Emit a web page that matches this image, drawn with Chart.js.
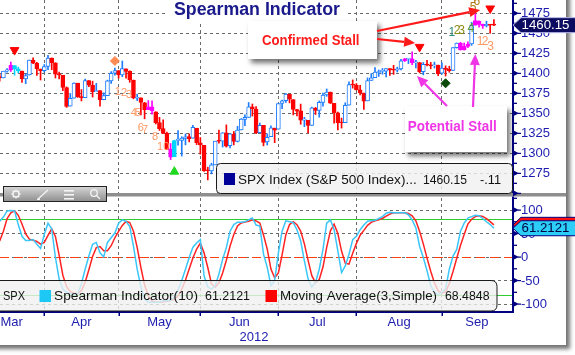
<!DOCTYPE html>
<html>
<head>
<meta charset="utf-8">
<title>Spearman Indicator</title>
<script src="https://cdn.jsdelivr.net/npm/chart.js@4.4.1/dist/chart.umd.min.js"></script>
<style>
html,body{margin:0;padding:0;background:#fff;overflow:hidden;}
canvas{display:block;}
</style>
</head>
<body>
<canvas id="chart" width="575" height="355"></canvas>
<script>
// ---------- DATA (SPX daily, 2012) ----------
const dates = ['03-14',
 '03-15','03-16','03-19','03-20','03-21','03-22','03-23','03-26','03-27','03-28','03-29','03-30',
 '04-02','04-03','04-04','04-05','04-09','04-10','04-11','04-12','04-13','04-16','04-17','04-18','04-19','04-20','04-23','04-24','04-25','04-26','04-27','04-30',
 '05-01','05-02','05-03','05-04','05-07','05-08','05-09','05-10','05-11','05-14','05-15','05-16','05-17','05-18','05-21','05-22','05-23','05-24','05-25','05-29','05-30','05-31',
 '06-01','06-04','06-05','06-06','06-07','06-08','06-11','06-12','06-13','06-14','06-15','06-18','06-19','06-20','06-21','06-22','06-25','06-26','06-27','06-28','06-29',
 '07-02','07-03','07-05','07-06','07-09','07-10','07-11','07-12','07-13','07-16','07-17','07-18','07-19','07-20','07-23','07-24','07-25','07-26','07-27','07-30','07-31',
 '08-01','08-02','08-03','08-06','08-07','08-08','08-09','08-10','08-13','08-14','08-15','08-16','08-17','08-20','08-21','08-22','08-23','08-24','08-27','08-28','08-29','08-30','08-31',
 '09-04','09-05','09-06','09-07','09-10','09-11','09-12','09-13','09-14','09-17','09-18','09-19','09-20','09-21'];
const monthNames = {'03':'Mar','04':'Apr','05':'May','06':'Jun','07':'Jul','08':'Aug','09':'Sep'};
const yearLabel = '2012';

const opens = [1395.9,
 1394.2,1402.6,1404.2,1409.6,1405.5,1402.9,1392.8,1397.8,1416.6,1412.5,1405.4,1403.3,
 1408.5,1418.9,1413.1,1398.8,1397.4,1382.2,1359.0,1368.8,1387.6,1370.3,1369.6,1390.8,1385.1,1377.0,1378.5,1367.0,1372.1,1390.6,1400.2,1403.3,
 1397.9,1405.5,1402.3,1391.5,1368.8,1369.2,1363.2,1354.6,1358.1,1351.9,1338.4,1330.8,1324.8,1305.1,1295.7,1316.1,1316.0,1318.7,1320.8,1318.9,1331.3,1313.1,
 1309.9,1278.3,1277.8,1285.6,1316.1,1315.0,1325.7,1309.4,1324.0,1314.9,1329.2,1342.4,1344.8,1358.0,1355.4,1325.9,1334.9,1314.1,1320.7,1331.5,1330.1,
 1362.3,1365.8,1373.7,1367.1,1354.7,1353.0,1341.4,1341.3,1334.8,1356.5,1353.7,1363.6,1373.0,1376.5,1362.3,1350.5,1338.3,1338.2,1360.1,1385.9,1385.3,
 1379.3,1375.1,1365.5,1391.0,1394.5,1401.0,1402.3,1402.6,1405.9,1404.4,1403.9,1405.6,1415.8,1417.9,1418.1,1413.1,1413.5,1402.0,1411.1,1410.4,1409.3,1410.1,1400.1,
 1406.5,1404.9,1403.7,1432.1,1437.9,1429.1,1433.6,1436.6,1460.1,1465.4,1461.2,1459.5,1461.1,1460.3];
const highs = [1399.4,
 1402.6,1405.9,1414.0,1409.6,1407.8,1402.9,1399.2,1416.6,1419.2,1413.7,1405.4,1410.9,
 1422.4,1419.2,1413.1,1401.6,1397.4,1383.0,1374.7,1388.1,1387.6,1379.7,1392.8,1390.8,1390.1,1387.4,1378.5,1375.6,1391.4,1402.1,1406.6,1403.3,
 1415.3,1405.5,1403.1,1391.5,1373.9,1369.2,1363.7,1365.9,1365.7,1351.9,1344.9,1341.8,1326.4,1312.2,1316.4,1328.5,1320.7,1324.1,1324.2,1334.9,1331.3,1319.7,
 1309.9,1282.6,1287.6,1315.1,1329.1,1325.8,1335.5,1324.3,1327.3,1333.7,1343.3,1348.2,1363.5,1361.6,1358.3,1337.8,1334.9,1324.2,1334.4,1331.5,1362.2,
 1366.4,1374.8,1373.9,1367.1,1354.9,1361.5,1345.0,1341.3,1357.7,1357.3,1365.4,1375.3,1380.4,1376.5,1362.3,1351.5,1344.0,1363.1,1389.2,1391.7,1387.2,
 1385.0,1375.1,1394.2,1399.6,1407.1,1404.1,1406.0,1406.0,1405.9,1410.0,1407.7,1417.4,1418.7,1418.1,1426.7,1416.1,1413.5,1413.5,1416.2,1413.6,1414.0,1410.1,1413.1,
 1409.3,1408.8,1432.1,1437.9,1438.7,1437.8,1439.2,1463.8,1474.5,1465.6,1461.5,1465.1,1461.2,1467.1];
const lows = [1390.0,
 1394.2,1401.5,1402.4,1397.7,1400.6,1388.7,1386.9,1397.8,1411.9,1397.2,1391.6,1401.4,
 1404.5,1404.6,1394.1,1392.9,1378.2,1357.4,1359.0,1368.8,1369.9,1365.4,1369.6,1383.3,1370.3,1377.0,1358.8,1366.8,1372.1,1387.3,1397.7,1394.0,
 1395.7,1393.9,1388.7,1368.0,1365.9,1347.8,1343.1,1354.6,1348.9,1336.6,1328.5,1324.8,1304.9,1292.0,1295.7,1310.0,1296.5,1310.5,1314.2,1318.9,1310.8,1298.9,
 1277.3,1266.7,1274.2,1285.6,1312.7,1307.8,1307.7,1306.6,1310.5,1314.1,1329.2,1334.5,1344.8,1346.5,1324.4,1325.9,1309.3,1310.3,1320.7,1313.3,1330.1,
 1355.7,1363.5,1363.0,1348.0,1346.7,1336.3,1333.2,1325.4,1334.8,1348.5,1345.1,1359.0,1371.2,1362.2,1337.6,1329.2,1331.5,1338.2,1360.1,1381.4,1379.2,
 1373.1,1354.7,1365.5,1391.0,1394.5,1396.1,1398.8,1395.6,1397.3,1398.6,1401.6,1404.2,1414.7,1412.1,1410.9,1406.8,1400.5,1398.0,1409.1,1405.6,1406.6,1397.0,1399.0,
 1396.6,1401.3,1403.7,1431.5,1429.0,1429.1,1432.0,1434.9,1460.1,1457.6,1456.1,1457.9,1450.0,1459.5];
const closes = [1394.3,
 1402.6,1404.2,1409.8,1405.5,1402.9,1392.8,1397.1,1416.5,1412.5,1405.5,1403.3,1408.5,
 1419.0,1413.4,1399.0,1398.1,1382.2,1358.6,1368.7,1387.6,1370.3,1369.6,1390.8,1385.1,1376.9,1378.5,1366.9,1372.0,1390.7,1400.0,1403.4,1397.9,
 1405.8,1402.3,1391.6,1369.1,1369.6,1363.7,1354.6,1358.0,1353.4,1338.4,1330.7,1324.8,1304.9,1295.2,1316.0,1316.6,1318.9,1320.7,1317.8,1332.4,1313.3,1310.3,
 1278.0,1278.2,1285.5,1315.1,1315.0,1325.7,1308.9,1324.2,1314.9,1329.1,1342.8,1344.8,1358.0,1355.7,1325.5,1335.0,1313.7,1320.0,1331.9,1329.0,1362.2,
 1365.5,1374.0,1367.6,1354.7,1352.5,1341.5,1341.5,1334.8,1356.8,1353.6,1363.7,1372.8,1376.5,1362.7,1350.5,1338.3,1337.9,1360.0,1386.0,1385.3,1379.3,
 1375.3,1365.0,1391.0,1394.2,1401.4,1402.2,1402.8,1405.9,1404.1,1403.9,1405.5,1415.5,1418.2,1418.1,1413.2,1413.5,1402.1,1411.1,1410.4,1409.3,1410.5,1399.5,1406.6,
 1404.9,1403.4,1432.1,1437.9,1429.1,1433.6,1436.6,1460.0,1465.8,1461.2,1459.3,1461.1,1460.26,1460.15];

const spearman = [76,
 85,98,99,98,69,44,35,35,37,27,18,48,
 72,60,-1,-47,-68,-75,-78,-79,-78,-57,-26,2,27,31,9,0,31,41,51,72,
 79,76,65,23,-26,-64,-89,-96,-96,-96,-96,-93,-93,-92,-85,-71,-50,-26,-1,21,30,37,
 -40,-64,-68,-61,-36,-5,20,55,69,74,74,75,79,83,68,66,6,-22,-61,-50,9,
 55,77,75,73,58,34,-8,-47,-64,-54,-26,16,72,79,58,13,-33,-19,6,37,44,
 58,68,76,77,78,82,86,93,95,94,94,94,94,90,79,62,23,-1,-29,-61,-75,-80,-75,
 -68,-26,2,16,55,72,83,86,89,88,82,75,69,61.2121];
const movingAvg = [34,
 55,82,94,98.3,88.7,70.3,49.3,38,35.7,33,27.3,31,
 46,60,43.7,4,-38.7,-63.3,-73.7,-77.3,-78.3,-71.3,-53.7,-27,1,20,22.3,13.3,13.3,24,41,54.7,
 67.3,75.7,73.3,54.7,20.7,-22.3,-59.7,-83,-93.7,-96,-96,-95,-94,-92.7,-90,-82.7,-68.7,-49,-25.7,-2,16.7,29.3,
 9,-22.3,-57.3,-64.3,-55,-34,-7,23.3,48,66,72.3,74.3,76,79,76.7,72.3,46.7,16.7,-25.7,-44.3,-34,
 4.7,47,69,75,68.7,55,28,-7,-39.7,-55,-48,-21.3,20.7,55.7,69.7,50,12.7,-13,-15.3,8,29,
 46.3,56.7,67.3,73.7,77,79,82,87,91.3,94,94.3,94,94,92.7,87.7,77,54.7,28,-2.3,-30.3,-55,-72,-76.7,
 -74.3,-56.3,-30.7,-2.7,24.3,47.7,70,80.3,86,87.7,86.3,81.7,75.3,68.4848];

const priceTicks = [1275,1300,1325,1350,1375,1400,1425,1450,1475];
const spearTicks = [-100,-50,0,50,100];
const signalLevels = [80,-80];

// signal bars (index into dates) and markers (index, price)
const magentaDays = [3,40,41,46,109,111,124,125,126,128,129,130];
const cyanDays = [4,5,47];
const stallTops = [{x:4,y:1429},{x:113,y:1433},{x:132,y:1481}];
const stallBottoms = [{x:47,y:1277}];
const setupOrange = [{x:31,y:1415.4}];
const setupGreen = [{x:120,y:1387.5}];
const countDown = [['1',31.8,1376.6],['2',33.5,1375.4],['3',34.8,1372.9],['4',36.1,1350.4],['5',37.2,1350.4],['6',38.0,1331.6],['7',39.1,1329.1],['8',41.8,1320.4],['10',44.0,1308.5]];
const countSetupA = [['1',121.7,1450.4],['2',123.1,1452.9],['3',124.3,1453.3],['4',126.8,1455.4]];
const countSetupB = [['5',127.4,1481.6],['6',128.4,1489]];
const countSep = [['1',129.3,1439.5],['2',130.6,1439.5],['3',132.1,1433.3]];

// ---------- STYLE HELPERS ----------
const FONT = "'Liberation Sans', Arial, sans-serif";
const NAVY = '#000080';
const LBL = '#1c1cae';
const GRID = '#6a6a6a';
const isUp = k => closes[k] >= opens[k];
const lineColor = k => magentaDays.includes(k) ? '#ff00ff' : cyanDays.includes(k) ? '#00d4ff' : (isUp(k) ? '#1e7cff' : '#ff0000');
const fillColor = k => magentaDays.includes(k) ? '#ff00ff' : cyanDays.includes(k) ? '#00d4ff' : (isUp(k) ? '#ffffff' : '#ff0000');

const monthEnd = [];
for (let k = 0; k < dates.length - 1; k++) if (dates[k].slice(0,2) !== dates[k+1].slice(0,2)) monthEnd.push(k);

function fitText(c, txt, x, y, w, font, color, align) {
  c.save();
  c.font = font; c.fillStyle = color; c.textBaseline = 'middle'; c.textAlign = 'left';
  const m = c.measureText(txt).width;
  const s = w ? w / m : 1;
  let x0 = x;
  if (align === 'center') x0 = x - (m * s) / 2;
  c.translate(x0, y); c.scale(s, 1); c.fillText(txt, 0, 0);
  c.restore();
}
function arrow(c, x1, y1, x2, y2, color) {
  const ang = Math.atan2(y2 - y1, x2 - x1), L = 11, W = 5;
  const bx = x2 - L * Math.cos(ang), by = y2 - L * Math.sin(ang);
  c.strokeStyle = color; c.lineWidth = 2.2;
  c.beginPath(); c.moveTo(x1, y1); c.lineTo(bx, by); c.stroke();
  c.fillStyle = color; c.beginPath(); c.moveTo(x2, y2);
  c.lineTo(bx + W * Math.sin(ang), by - W * Math.cos(ang));
  c.lineTo(bx - W * Math.sin(ang), by + W * Math.cos(ang));
  c.closePath(); c.fill();
}
function rrect(c, x, y, w, h, r) {
  c.beginPath(); c.moveTo(x + r, y); c.lineTo(x + w - r, y); c.quadraticCurveTo(x + w, y, x + w, y + r);
  c.lineTo(x + w, y + h - r); c.quadraticCurveTo(x + w, y + h, x + w - r, y + h);
  c.lineTo(x + r, y + h); c.quadraticCurveTo(x, y + h, x, y + h - r); c.lineTo(x, y + r); c.quadraticCurveTo(x, y, x + r, y); c.closePath();
}
function tag(c, y, fill, border, text, tcolor) {
  const x0 = 513, h = 15;
  c.beginPath(); c.moveTo(x0, y); c.lineTo(x0 + 8, y - h / 2); c.lineTo(577, y - h / 2); c.lineTo(577, y + h / 2); c.lineTo(x0 + 8, y + h / 2); c.closePath();
  c.fillStyle = fill; c.fill(); c.strokeStyle = border; c.lineWidth = 1; c.stroke();
  if (text) fitText(c, text, 521.5, y + 0.5, 48, '13.5px ' + FONT, tcolor);
}

const decor = {
  id: 'decor',
  beforeDraw(chart) {
    const c = chart.ctx;
    c.save();
    c.fillStyle = '#ffffff'; c.fillRect(0, 0, chart.width, chart.height);
    c.shadowColor = 'rgba(0,0,0,0.55)'; c.shadowBlur = 4; c.shadowOffsetX = 4; c.shadowOffsetY = 4;
    c.fillRect(-10, -10, 576, 355);
    c.restore();
  },
  beforeDatasetsDraw(chart) {
    const c = chart.ctx, a = chart.chartArea, s = chart.scales.y2;
    c.save();
    c.lineWidth = 1.2; c.strokeStyle = '#2fcc2f';
    signalLevels.forEach(v => { const y = Math.round(s.getPixelForValue(v)) + 0.5; c.beginPath(); c.moveTo(a.left, y); c.lineTo(a.right, y); c.stroke(); });
    c.strokeStyle = '#ff4010'; c.setLineDash([9, 5]);
    const y0 = Math.round(s.getPixelForValue(0)) + 0.5;
    c.beginPath(); c.moveTo(a.left, y0); c.lineTo(a.right, y0); c.stroke();
    c.restore();
  },
  afterDatasetsDraw(chart) {
    const c = chart.ctx, a = chart.chartArea, xs = chart.scales.x, ys = chart.scales.y, y2 = chart.scales.y2;
    const P = (k, v) => [xs.getPixelForValue(k), ys.getPixelForValue(v)];
    c.save();

    // panel separator
    c.fillStyle = '#8e8e8e'; c.fillRect(0, ys.bottom - 3, 566, 3.5);
    // axis lines
    c.fillStyle = NAVY;
    c.fillRect(a.right, 0, 2, ys.bottom - 3);
    c.fillRect(a.right, y2.top + 0.5, 2, a.bottom - y2.top);
    c.fillRect(0, a.bottom - 1, a.right + 2, 2);
    // month tick marks
    monthEnd.forEach(k => { const x = Math.round(xs.getPixelForValue(k)); c.fillRect(x - 0.5, a.bottom, 1.5, 4); });

    // right axis ticks (arrows), minor ticks and labels
    const axis = (scale, labels, half) => {
      const vals = scale.ticks.map(t => t.value);
      vals.forEach(v => {
        const y = scale.getPixelForValue(v);
        if (y < scale.top - 2 || y > scale.bottom + 1) return;
        c.fillStyle = NAVY; c.beginPath(); c.moveTo(a.right + 1, y - 3); c.lineTo(a.right + 7, y); c.lineTo(a.right + 1, y + 3); c.closePath(); c.fill();
        c.fillRect(a.right + 6, y - 0.5, 3, 1.2);
        const ym = scale.getPixelForValue(v + half);
        if (ym > scale.top + 1 && ym < scale.bottom - 1) c.fillRect(a.right + 1, ym - 0.6, 4, 1.3);
      });
      c.font = '13px ' + FONT; c.fillStyle = LBL; c.textBaseline = 'middle'; c.textAlign = 'left';
      labels.forEach(v => c.fillText(String(v), 521, scale.getPixelForValue(v) + 0.5));
    };
    axis(ys, priceTicks, 12.5);
    axis(y2, spearTicks, 25);

    // title
    c.fillStyle = '#fff'; c.fillRect(168, 0, 178, 21);
    fitText(c, 'Spearman Indicator', 174, 10.5, 166, 'bold 18px ' + FONT, '#1a1a8c');

    // annotation boxes
    c.save(); c.shadowColor = 'rgba(0,0,0,0.55)'; c.shadowBlur = 5; c.shadowOffsetX = 3; c.shadowOffsetY = 4;
    c.fillStyle = '#fff'; c.fillRect(248, 21, 129, 38); c.fillRect(405, 106, 102, 46); c.restore();
    fitText(c, 'Confirmed Stall', 262, 41, 97.5, 'bold 14px ' + FONT, '#ff1a1a');
    fitText(c, 'Potential Stall', 407.7, 127.5, 89, 'bold 14px ' + FONT, '#f035e6');

    // count labels
    const drawCounts = (arr, color, size) => arr.forEach(([t, k, v]) => {
      const [x, y] = P(k, v); c.font = size + 'px ' + FONT; c.fillStyle = color; c.textAlign = 'center'; c.textBaseline = 'middle'; c.fillText(t, x, y);
    });
    drawCounts(countDown, '#ff9966', 11);
    drawCounts(countSep, '#ff9966', 12);
    drawCounts(countSetupA.slice(0, 1), '#2a8a78', 12);
    drawCounts(countSetupA.slice(1, 3), '#8c8c14', 12);
    drawCounts(countSetupA.slice(3), '#5a9a34', 12);
    drawCounts(countSetupB, '#b07a12', 12);

    // arrows
    let h;
    h = P(129.3, 1479.1); arrow(c, 377, 31, h[0], h[1], '#ff1a1a');
    h = P(111.8, 1437.9); arrow(c, 377, 39, h[0], h[1], '#ff1a1a');
    h = P(112.3, 1396.6); arrow(c, 447, 106, h[0], h[1], '#f035e6');
    h = P(128.0, 1424.1); arrow(c, 473, 107, h[0], h[1], '#f035e6');

    // top legend
    const last = closes[closes.length - 1], prev = closes[closes.length - 2];
    const chg = (last - prev).toFixed(2).replace('0.', '.');
    rrect(c, 216.5, 163.5, 296, 30, 4); c.fillStyle = 'rgba(240,240,240,0.82)'; c.fill(); c.strokeStyle = '#1a1a1a'; c.lineWidth = 1; c.stroke();
    c.fillStyle = '#000099'; c.fillRect(224, 173, 11, 12);
    fitText(c, 'SPX Index (S&P 500 Index)...', 238, 180.5, 178.7, '13.5px ' + FONT, '#111');
    fitText(c, last.toFixed(2), 423, 180.5, 44, '13.5px ' + FONT, '#111');
    fitText(c, chg, 480, 180.5, 21, '13.5px ' + FONT, '#111');

    // bottom legend
    c.beginPath(); c.moveTo(-2, 280.5); c.lineTo(491, 280.5); c.quadraticCurveTo(497, 280.5, 497, 286.5); c.lineTo(497, 305); c.quadraticCurveTo(497, 311, 491, 311); c.lineTo(-2, 311); c.closePath();
    c.fillStyle = 'rgba(240,240,240,0.78)'; c.fill(); c.strokeStyle = '#1a1a1a'; c.lineWidth = 1; c.stroke();
    fitText(c, 'SPX', 3, 296.5, 22, '13.5px ' + FONT, '#111');
    c.fillStyle = '#1ec8f5'; c.fillRect(39.5, 290, 11.5, 12);
    fitText(c, 'Spearman Indicator(10)', 54, 296.5, 144, '13.5px ' + FONT, '#111');
    fitText(c, spearman[spearman.length - 1].toFixed(4), 205, 296.5, 45, '13.5px ' + FONT, '#111');
    c.fillStyle = '#ff0000'; c.fillRect(265.5, 290, 11.5, 12);
    fitText(c, 'Moving Average(3,Simple)', 280, 296.5, 157, '13.5px ' + FONT, '#111');
    fitText(c, movingAvg[movingAvg.length - 1].toFixed(4), 445, 296.5, 44.5, '13.5px ' + FONT, '#111');

    // toolbar
    const g = c.createLinearGradient(0, 187, 0, 202); g.addColorStop(0, '#d4d4d4'); g.addColorStop(1, '#8c8c8c');
    c.fillStyle = g; c.fillRect(3.5, 186.5, 103, 15); c.strokeStyle = '#222'; c.strokeRect(3.5, 186.5, 103, 15);
    c.strokeStyle = '#f4f4f4'; c.fillStyle = '#f4f4f4'; c.lineWidth = 1.3;
    c.beginPath(); c.arc(16, 194, 3, 0, Math.PI * 2); c.stroke();
    for (let i = 0; i < 8; i++) { const t = i * Math.PI / 4; c.beginPath(); c.moveTo(16 + 3 * Math.cos(t), 194 + 3 * Math.sin(t)); c.lineTo(16 + 4.6 * Math.cos(t), 194 + 4.6 * Math.sin(t)); c.stroke(); }
    c.beginPath(); c.moveTo(38, 199); c.lineTo(48, 190); c.stroke(); c.fillRect(37, 198.5, 3, 1.5);
    c.fillRect(64, 190, 10, 1.6); c.fillRect(64, 194, 10, 1.6); c.fillRect(64, 198, 10, 1.6);
    c.beginPath(); c.arc(94, 193, 3.3, 0, Math.PI * 2); c.stroke(); c.beginPath(); c.moveTo(96.5, 195.5); c.lineTo(100, 199); c.stroke();

    // value tags
    tag(c, ys.getPixelForValue(last), '#0b0b60', '#b8b8e8', last.toFixed(2), '#ffffff');
    tag(c, y2.getPixelForValue(movingAvg[movingAvg.length - 1]), '#ff1010', NAVY, '', '#000');
    tag(c, y2.getPixelForValue(spearman[spearman.length - 1]), '#2ccdf7', NAVY, spearman[spearman.length - 1].toFixed(4), '#000040');

    // month labels
    c.font = '13px ' + FONT; c.fillStyle = LBL; c.textBaseline = 'middle';
    const bounds = [null].concat(monthEnd).concat([xs.max]);
    const months = [];
    dates.forEach(d => { const m = d.slice(0, 2); if (!months.includes(m)) months.push(m); });
    months.forEach((m, i) => {
      if (i === 0) { c.textAlign = 'left'; c.fillText(monthNames[m], a.left + 0.5, 322); return; }
      const cx = xs.getPixelForValue((bounds[i] + bounds[i + 1]) / 2);
      c.textAlign = 'center'; c.fillText(monthNames[m], cx, 322);
    });
    c.textAlign = 'center'; c.fillText(yearLabel, (a.left + a.right) / 2 - 2, 337.5);

    c.restore();
  }
};

const idx = dates.map((d, k) => k);
new Chart(document.getElementById('chart'), {
  type: 'bar',
  data: {
    datasets: [
      { type: 'line', label: 'Confirmed stall', data: stallTops, yAxisID: 'y', xAxisID: 'x', showLine: false, pointStyle: 'triangle', pointRotation: 180, pointRadius: 5, pointBackgroundColor: '#ff0000', pointBorderColor: '#ff0000', order: 0 },
      { type: 'line', label: 'Bottom', data: stallBottoms, yAxisID: 'y', xAxisID: 'x', showLine: false, pointStyle: 'triangle', pointRadius: 5, pointBackgroundColor: '#1fd81f', pointBorderColor: '#1fd81f', order: 0 },
      { type: 'line', label: 'Setup', data: setupOrange, yAxisID: 'y', xAxisID: 'x', showLine: false, pointStyle: 'rectRot', pointRadius: 4.5, pointBackgroundColor: '#ff8c55', pointBorderColor: '#ff8c55', order: 0 },
      { type: 'line', label: 'Setup2', data: setupGreen, yAxisID: 'y', xAxisID: 'x', showLine: false, pointStyle: 'rectRot', pointRadius: 4.5, pointBackgroundColor: '#0b4a0b', pointBorderColor: '#0b4a0b', order: 0 },
      { type: 'line', label: 'Spearman Indicator(10)', data: idx.map(k => ({ x: k, y: spearman[k] })), yAxisID: 'y2', xAxisID: 'x', borderColor: '#3ac6f8', borderWidth: 1.5, pointRadius: 0, tension: 0, order: 1 },
      { type: 'line', label: 'Moving Average(3,Simple)', data: idx.map(k => ({ x: k, y: movingAvg[k] })), yAxisID: 'y2', xAxisID: 'x', borderColor: '#ff2222', borderWidth: 1.5, pointRadius: 0, tension: 0, order: 1 },
      { type: 'bar', label: 'Body', data: idx.map(k => ({ x: k, y: [opens[k], closes[k]] })), yAxisID: 'y', xAxisID: 'x', grouped: false, barThickness: 4, minBarLength: 1, borderWidth: 1, borderSkipped: false, backgroundColor: idx.map(fillColor), borderColor: idx.map(lineColor), order: 2 },
      { type: 'bar', label: 'Wick', data: idx.map(k => ({ x: k, y: [lows[k], highs[k]] })), yAxisID: 'y', xAxisID: 'x', grouped: false, barThickness: 1, borderWidth: 0, backgroundColor: idx.map(lineColor), order: 3 }
    ]
  },
  options: {
    responsive: false, animation: false, devicePixelRatio: 1, events: [],
    layout: { padding: 0, autoPadding: false },
    plugins: { legend: { display: false }, tooltip: { enabled: false }, title: { display: false } },
    scales: {
      x: {
        type: 'linear', position: 'bottom', min: 0.085, max: 137.87, offset: false,
        afterBuildTicks: s => { s.ticks = monthEnd.map(v => ({ value: v })); },
        afterFit: s => { s.height = 43; },
        ticks: { display: false },
        grid: { color: GRID, lineWidth: 1, drawTicks: false, offset: false },
        border: { display: false, dash: [3, 3] }
      },
      y: {
        type: 'linear', position: 'right', stack: 'panels', stackWeight: 196,
        min: 1246.6, max: 1491.6,
        ticks: { display: false, stepSize: 25, includeBounds: false },
        afterFit: s => { s.width = 63; },
        grid: { color: GRID, lineWidth: 1, drawTicks: false },
        border: { display: false, dash: [3, 3] }
      },
      y2: {
        type: 'linear', position: 'right', stack: 'panels', stackWeight: 116,
        min: -117, max: 129.8,
        ticks: { display: false, stepSize: 50, includeBounds: false },
        afterFit: s => { s.width = 63; },
        grid: { color: GRID, lineWidth: 1, drawTicks: false },
        border: { display: false, dash: [3, 3] }
      }
    }
  },
  plugins: [decor]
});
</script>
</body>
</html>
